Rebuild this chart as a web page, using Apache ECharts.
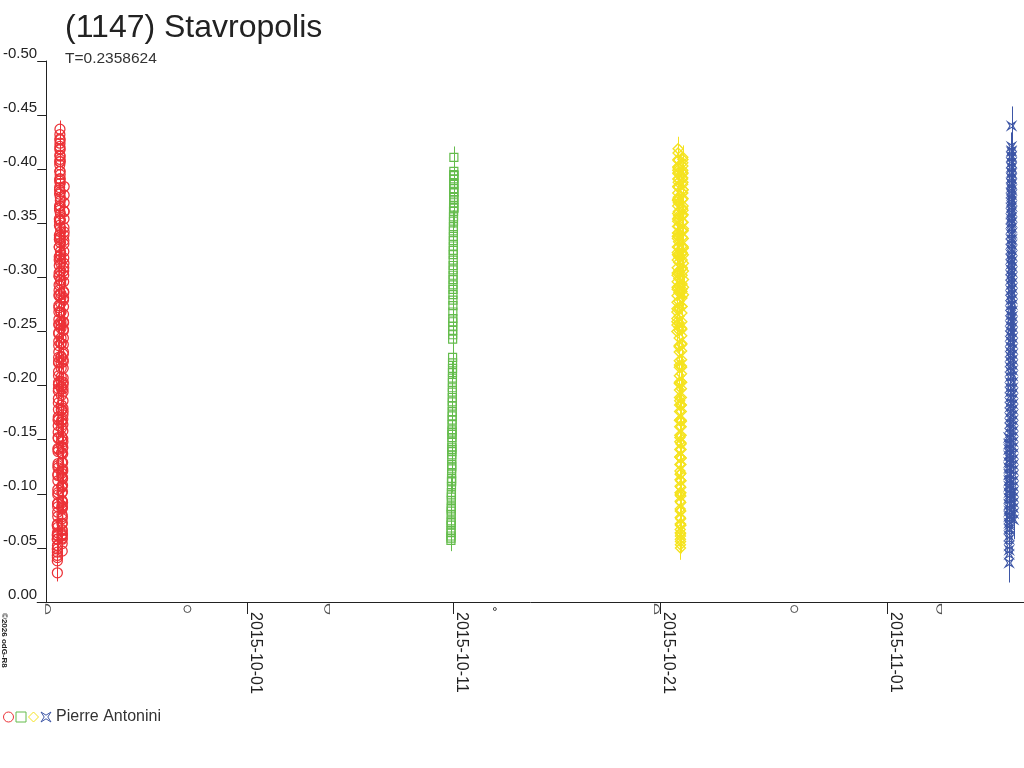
<!DOCTYPE html>
<html><head><meta charset="utf-8">
<script src="https://cdn.jsdelivr.net/npm/echarts@6/dist/echarts.min.js"></script>
<style>html,body{margin:0;padding:0;background:#fff}#c{width:1024px;height:768px}</style>
</head><body><div id="c"></div>
<script>
const titleText = '(1147) Stavropolis';
const periodText = 'T=0.2358624';
const observer = 'Pierre Antonini';
const credit = '©2026 odG-R8';
const xTickLabels = ['2015-10-01', '2015-10-11', '2015-10-21', '2015-11-01'];
const xRange = ['2015-09-20T20:15Z', '2015-11-07T15:01Z'];
const yRange = [-0.5, 0];
const yStep = 0.05;

const sessionDates = ['2015-09-21', '2015-10-10', '2015-10-21', '2015-11-06'];
const sessionErr = [0.008, 0.010, 0.011, 0.018];

// [hour of UT day (may exceed 24), delta mag]
const redPts = [[19.50,-0.071],[19.55,-0.062],[19.60,-0.049],[19.65,-0.043],[19.70,-0.027],[19.75,-0.041],[19.80,-0.052],
[19.85,-0.058],[19.90,-0.061],[19.95,-0.072],[20.00,-0.069],[20.05,-0.083],[20.10,-0.088],[20.15,-0.091],[20.20,-0.104],[20.25,-0.099],[20.30,-0.112],[20.35,-0.118],[20.40,-0.126],[20.45,-0.124],[20.50,-0.139],[20.55,-0.141],[20.60,-0.152],[20.65,-0.157],[20.70,-0.163],[20.75,-0.171],[20.80,-0.169],[20.85,-0.184],[20.90,-0.188],[20.95,-0.197],[21.00,-0.201],[21.05,-0.209],[21.10,-0.213],[21.15,-0.226],[21.20,-0.222],[21.25,-0.237],[21.30,-0.241],[21.35,-0.249],[21.40,-0.256],[21.45,-0.261],[21.50,-0.268],[21.55,-0.272],[21.60,-0.283],[21.65,-0.288],[21.70,-0.293],[21.75,-0.304],[21.80,-0.301],[21.85,-0.316],[21.90,-0.319],[21.95,-0.328],[22.00,-0.335],[22.05,-0.339],[22.10,-0.348],[22.15,-0.352],[22.20,-0.364],[22.25,-0.366],[22.30,-0.377],[22.35,-0.383],[22.40,-0.389],[22.45,-0.398],[22.50,-0.404],[22.55,-0.413],[22.60,-0.421],[22.65,-0.428],[22.70,-0.437],[22.75,-0.424],
[22.80,-0.419],[22.85,-0.409],[22.90,-0.412],[22.95,-0.398],[23.00,-0.391],[23.05,-0.387],[23.10,-0.374],[23.15,-0.371],[23.20,-0.359],[23.25,-0.353],[23.30,-0.346],[23.35,-0.337],[23.40,-0.332],[23.45,-0.321],[23.50,-0.317],[23.55,-0.306],[23.60,-0.298],[23.65,-0.294],[23.70,-0.281],[23.75,-0.276],[23.80,-0.268],[23.85,-0.259],[23.90,-0.253],[23.95,-0.244],[24.00,-0.239],[24.05,-0.227],[24.10,-0.221],[24.15,-0.216],[24.20,-0.204],[24.25,-0.199],[24.30,-0.191],[24.35,-0.182],[24.40,-0.177],[24.45,-0.166],[24.50,-0.161],[24.55,-0.153],[24.60,-0.144],[24.65,-0.138],[24.70,-0.129],[24.75,-0.122],[24.80,-0.116],[24.85,-0.107],[24.90,-0.101],[24.95,-0.094],[25.00,-0.086],[25.05,-0.081],[25.10,-0.072],[25.15,-0.067],[25.20,-0.059],[25.25,-0.062],[25.30,-0.054],[25.35,-0.058],
[25.40,-0.066],[25.45,-0.073],[25.50,-0.079],[25.55,-0.087],[25.60,-0.093],[25.65,-0.102],[25.70,-0.108],[25.75,-0.114],[25.80,-0.123],[25.85,-0.129],[25.90,-0.137],[25.95,-0.143],[26.00,-0.151],[26.05,-0.158],[26.10,-0.164],[26.15,-0.173],[26.20,-0.179],[26.25,-0.186],[26.30,-0.194],[26.35,-0.201],[26.40,-0.207],[26.45,-0.216],[26.50,-0.222],[26.55,-0.229],[26.60,-0.238],[26.65,-0.244],[26.70,-0.251],[26.75,-0.259],[26.80,-0.266],[26.85,-0.273],[26.90,-0.281],[26.95,-0.287],[27.00,-0.296],[27.05,-0.302],[27.10,-0.309],[27.15,-0.318],[27.20,-0.324],[27.25,-0.331],[27.30,-0.339],[27.35,-0.346],[27.40,-0.354],[27.45,-0.361],[27.50,-0.369],[27.55,-0.376],[27.60,-0.384],
[19.53,-0.058],[19.63,-0.038],[19.73,-0.046],[19.83,-0.064],[19.93,-0.052],[20.03,-0.091],[20.13,-0.079],[20.23,-0.117],[20.33,-0.101],[20.43,-0.142],[20.53,-0.128],[20.63,-0.168],[20.73,-0.151],[20.83,-0.195],[20.93,-0.178],[21.03,-0.221],[21.13,-0.203],[21.23,-0.248],[21.33,-0.231],[21.43,-0.274],[21.53,-0.257],[21.63,-0.301],[21.73,-0.284],[21.83,-0.328],[21.93,-0.311],[22.03,-0.354],[22.13,-0.337],[22.23,-0.381],[22.33,-0.362],[22.43,-0.407],[22.53,-0.391],[22.63,-0.432],[22.73,-0.418],[22.83,-0.427],[22.93,-0.395],[23.03,-0.407],[23.13,-0.366],[23.23,-0.379],[23.33,-0.324],[23.43,-0.342],[23.53,-0.297],[23.63,-0.313],[23.73,-0.268],[23.83,-0.285],[23.93,-0.239],[24.03,-0.256],[24.13,-0.208],[24.23,-0.226],[24.33,-0.178],[24.43,-0.197],[24.53,-0.149],[24.63,-0.168],[24.73,-0.119],[24.83,-0.138],[24.93,-0.089],[25.03,-0.106],[25.13,-0.061],[25.23,-0.077],[25.33,-0.047],[25.43,-0.088],[25.53,-0.063],[25.63,-0.115],[25.73,-0.092],[25.83,-0.142],[25.93,-0.121],[26.03,-0.169],[26.13,-0.148],[26.23,-0.197],[26.33,-0.176],[26.43,-0.224],[26.53,-0.203],[26.63,-0.252],[26.73,-0.231],[26.83,-0.279],[26.93,-0.258],[27.03,-0.306],[27.13,-0.286],[27.23,-0.334],[27.33,-0.313],[27.43,-0.361],[27.53,-0.342]];

const greenPts = [[21.05,-0.057],[21.09,-0.061],[21.13,-0.059],[21.17,-0.066],[21.21,-0.064],[21.25,-0.071],[21.29,-0.075],[21.33,-0.073],[21.37,-0.081],[21.41,-0.084],[21.45,-0.088],[21.49,-0.086],[21.53,-0.094],[21.57,-0.097],[21.61,-0.101],[21.65,-0.099],[21.69,-0.107],[21.73,-0.111],[21.77,-0.114],[21.81,-0.112],[21.85,-0.119],[21.89,-0.123],[21.93,-0.127],[21.97,-0.125],[22.01,-0.132],[22.05,-0.136],[22.09,-0.139],[22.13,-0.143],[22.17,-0.141],[22.21,-0.148],[22.25,-0.152],[22.29,-0.155],[22.33,-0.159],[22.37,-0.157],[22.41,-0.164],[22.45,-0.168],[22.49,-0.172],[22.53,-0.176],[22.57,-0.181],[22.61,-0.185],[22.65,-0.189],[22.69,-0.194],[22.73,-0.198],[22.77,-0.203],[22.81,-0.207],[22.85,-0.212],[22.89,-0.216],[22.93,-0.221],[22.97,-0.226],
[23.05,-0.243],[23.09,-0.247],[23.13,-0.251],[23.17,-0.255],[23.21,-0.259],[23.25,-0.262],[23.29,-0.268],[23.33,-0.274],[23.37,-0.279],[23.41,-0.284],[23.45,-0.289],[23.49,-0.293],[23.53,-0.298],[23.57,-0.302],[23.61,-0.307],[23.65,-0.311],[23.69,-0.316],[23.73,-0.321],[23.77,-0.325],[23.81,-0.329],[23.85,-0.334],[23.89,-0.338],[23.93,-0.343],[23.97,-0.347],[24.01,-0.352],[24.05,-0.356],[24.09,-0.361],[24.13,-0.365],[24.17,-0.369],[24.21,-0.374],[24.25,-0.378],[24.29,-0.382],[24.33,-0.386],[24.37,-0.391],[24.41,-0.395],[24.45,-0.398],[24.49,-0.411],[24.53,-0.394],[24.57,-0.387],[24.61,-0.379],[24.65,-0.372],[24.69,-0.364]];

const yellowPts = [[19.60,-0.250],[19.65,-0.259],[19.70,-0.262],[19.76,-0.271],[19.81,-0.277],[19.86,-0.283],[19.91,-0.291],[19.97,-0.296],[20.02,-0.304],[20.07,-0.309],[20.12,-0.316],[20.18,-0.323],[20.23,-0.328],[20.28,-0.336],[20.33,-0.341],[20.39,-0.347],[20.44,-0.354],[20.49,-0.359],[20.54,-0.366],[20.60,-0.372],[20.65,-0.378],[20.70,-0.384],[20.75,-0.391],[20.81,-0.396],[20.86,-0.402],[20.91,-0.409],[20.96,-0.415],
[21.02,-0.408],[21.07,-0.401],[21.12,-0.397],[21.17,-0.388],[21.23,-0.383],[21.28,-0.374],[21.33,-0.369],[21.38,-0.361],[21.44,-0.355],[21.49,-0.347],[21.54,-0.341],[21.59,-0.333],[21.65,-0.328],[21.70,-0.319],[21.75,-0.314],[21.80,-0.306],[21.86,-0.299],[21.91,-0.292],[21.96,-0.286],[22.01,-0.278],[22.07,-0.272],[22.12,-0.264],[22.17,-0.258],[22.22,-0.251],[22.28,-0.244],[22.33,-0.237],[22.38,-0.231],[22.43,-0.223],[22.49,-0.217],[22.54,-0.209],[22.59,-0.203],[22.64,-0.196],[22.70,-0.189],[22.75,-0.182],[22.80,-0.176],[22.85,-0.168],[22.91,-0.162],[22.96,-0.154],[23.01,-0.148],[23.06,-0.141],[23.12,-0.134],[23.17,-0.127],[23.22,-0.121],[23.27,-0.113],[23.33,-0.107],[23.38,-0.099],[23.43,-0.093],[23.48,-0.086],[23.54,-0.078],[23.59,-0.072],[23.64,-0.064],[23.69,-0.058],[23.75,-0.053],[23.80,-0.050],
[23.85,-0.056],[23.91,-0.063],[23.96,-0.071],[24.01,-0.077],[24.06,-0.084],[24.12,-0.092],[24.17,-0.098],[24.22,-0.106],[24.27,-0.112],[24.33,-0.119],[24.38,-0.127],[24.43,-0.133],[24.48,-0.141],[24.54,-0.147],[24.59,-0.154],[24.64,-0.162],[24.69,-0.168],[24.75,-0.176],[24.80,-0.182],[24.85,-0.189],[24.90,-0.197],[24.96,-0.203],[25.01,-0.211],[25.06,-0.217],[25.11,-0.224],[25.17,-0.232],[25.22,-0.238],[25.27,-0.246],[25.32,-0.252],[25.38,-0.259],[25.43,-0.267],[25.48,-0.273],[25.53,-0.281],[25.59,-0.287],[25.64,-0.294],[25.69,-0.302],[25.74,-0.308],[25.80,-0.316],[25.85,-0.322],[25.90,-0.329],[25.95,-0.337],[26.01,-0.343],[26.06,-0.351],[26.11,-0.357],[26.16,-0.364],[26.22,-0.372],[26.27,-0.378],[26.32,-0.386],[26.37,-0.392],[26.43,-0.399],[26.48,-0.406],
[26.53,-0.411],[26.59,-0.403],[26.64,-0.396],[26.69,-0.388],[26.74,-0.381],[26.80,-0.373],[26.85,-0.366],[26.90,-0.358],[26.95,-0.351],[27.01,-0.343],[27.06,-0.336],[27.11,-0.328],[27.16,-0.321],[27.22,-0.313],[27.27,-0.306],[27.32,-0.298],[27.37,-0.291],
[19.63,-0.268],[19.76,-0.256],[19.89,-0.302],[20.02,-0.289],[20.15,-0.338],[20.28,-0.321],[20.41,-0.371],[20.54,-0.352],[20.67,-0.399],[20.80,-0.384],[20.93,-0.402],[21.06,-0.419],[21.19,-0.373],[21.32,-0.391],[21.45,-0.338],[21.58,-0.357],[21.71,-0.304],[21.84,-0.321],[21.97,-0.271],[22.10,-0.288],[22.23,-0.236],[22.36,-0.254],[22.49,-0.202],[22.62,-0.219],[22.75,-0.168],[22.88,-0.186],[23.01,-0.134],[23.14,-0.152],[23.27,-0.101],[23.40,-0.118],[23.53,-0.067],[23.66,-0.084],[23.79,-0.061],[23.92,-0.072],[24.05,-0.071],[24.18,-0.112],[24.31,-0.101],[24.44,-0.146],[24.57,-0.133],[24.70,-0.182],[24.83,-0.167],[24.96,-0.218],[25.09,-0.203],[25.22,-0.253],[25.35,-0.239],[25.48,-0.289],[25.61,-0.273],[25.74,-0.323],[25.87,-0.309],[26.00,-0.358],[26.13,-0.343],[26.26,-0.391],[26.39,-0.378],[26.52,-0.397],[26.65,-0.409],[26.78,-0.362],[26.91,-0.381],[27.04,-0.327],[27.17,-0.345],[27.30,-0.284]];

const bluePts = [[21.10,-0.152],[21.14,-0.146],[21.17,-0.141],[21.21,-0.135],[21.24,-0.129],[21.28,-0.124],[21.31,-0.118],[21.35,-0.112],[21.38,-0.107],[21.42,-0.101],[21.45,-0.096],[21.49,-0.090],[21.52,-0.084],[21.56,-0.079],[21.59,-0.073],[21.63,-0.068],[21.66,-0.061],[21.70,-0.052],[21.73,-0.044],[21.77,-0.036],
[21.80,-0.048],[21.84,-0.058],[21.87,-0.067],[21.91,-0.071],[21.94,-0.077],[21.98,-0.080],[22.01,-0.086],[22.05,-0.090],[22.08,-0.095],[22.12,-0.099],[22.15,-0.104],[22.19,-0.109],[22.22,-0.113],[22.26,-0.118],[22.29,-0.123],[22.33,-0.128],[22.36,-0.132],[22.40,-0.137],[22.43,-0.142],[22.47,-0.146],[22.50,-0.151],[22.54,-0.156],[22.57,-0.161],[22.61,-0.165],[22.64,-0.170],[22.68,-0.175],[22.71,-0.180],[22.75,-0.184],[22.78,-0.189],[22.82,-0.194],[22.85,-0.198],[22.89,-0.203],[22.92,-0.208],[22.96,-0.213],[22.99,-0.217],[23.03,-0.222],[23.06,-0.227],[23.10,-0.231],[23.13,-0.236],[23.17,-0.241],[23.20,-0.246],[23.24,-0.250],[23.27,-0.255],[23.31,-0.260],[23.34,-0.265],[23.38,-0.269],[23.41,-0.274],[23.45,-0.279],[23.48,-0.283],[23.52,-0.288],[23.55,-0.293],[23.59,-0.298],[23.62,-0.302],[23.66,-0.307],[23.69,-0.312],[23.73,-0.317],[23.76,-0.321],[23.80,-0.326],[23.83,-0.331],[23.87,-0.335],[23.90,-0.340],[23.94,-0.345],[23.97,-0.350],[24.01,-0.354],[24.04,-0.359],[24.08,-0.364],[24.11,-0.369],[24.15,-0.373],[24.18,-0.378],[24.22,-0.383],[24.25,-0.387],[24.29,-0.392],[24.32,-0.397],[24.36,-0.402],[24.39,-0.406],[24.43,-0.411],[24.46,-0.416],[24.50,-0.421],[24.53,-0.440],
[24.57,-0.417],[24.60,-0.412],[24.64,-0.406],[24.67,-0.401],[24.71,-0.396],[24.74,-0.391],[24.78,-0.386],[24.81,-0.381],[24.85,-0.376],[24.88,-0.371],[24.92,-0.366],[24.95,-0.361],[24.99,-0.356],[25.02,-0.351],[25.06,-0.346],[25.09,-0.341],[25.13,-0.335],[25.16,-0.330],[25.20,-0.325],[25.23,-0.320],[25.27,-0.315],[25.30,-0.310],[25.34,-0.305],[25.37,-0.300],[25.41,-0.295],[25.44,-0.290],[25.48,-0.285],[25.51,-0.280],[25.55,-0.275],[25.58,-0.269],[25.62,-0.264],[25.65,-0.259],[25.69,-0.254],[25.72,-0.249],[25.76,-0.244],[25.79,-0.239],[25.83,-0.234],[25.86,-0.229],[25.90,-0.224],[25.93,-0.219],[25.97,-0.214],[26.00,-0.209],[26.04,-0.203],[26.07,-0.198],[26.11,-0.193],[26.14,-0.188],[26.18,-0.183],[26.21,-0.178],[26.25,-0.173],[26.28,-0.168],[26.32,-0.163],[26.35,-0.158],[26.39,-0.153],[26.42,-0.148],[26.46,-0.143],[26.49,-0.137],[26.53,-0.132],[26.56,-0.127],[26.60,-0.122],[26.63,-0.117],[26.67,-0.112],[26.70,-0.107],[26.74,-0.102],[26.77,-0.097],[26.81,-0.092],[26.84,-0.087],[26.88,-0.082],[26.91,-0.076]];

const moonTimes = ['2015-09-21T08:59Z','2015-09-28T02:50Z','2015-10-04T21:06Z','2015-10-13T00:06Z','2015-10-20T20:31Z','2015-10-27T12:05Z','2015-11-03T12:24Z'];
const moonPhases = ['FQ','F','LQ','N','FQ','F','LQ'];

const colors = ['#ec3237', '#64bc4c', '#f5e320', '#3d56a6'];
const symbols = ['circle', 'rect', 'diamond', 'path://M0,0L5,3.2L10,0L6.8,5L10,10L5,6.8L0,10L3.2,5Z'];
const symbolSizes = [10, 8, 10, 8];
const strokeWidths = [1.25, 1.2, 1.4, 1.1];
const sessionPts = [redPts, greenPts, yellowPts, bluePts];

const HOUR = 3600e3;
const toData = (pts, i) => {
  const base = Date.parse(sessionDates[i] + 'T00:00:00Z');
  return pts.map(p => [base + p[0] * HOUR, p[1], sessionErr[i]]);
};
const xTickValues = xTickLabels.map(s => Date.parse(s + 'T00:00:00Z'));
const seriesNames = sessionDates.slice();
const hollow = (i, w) => ({ color: 'rgba(0,0,0,0)', borderColor: colors[i], borderWidth: w, opacity: 1 });

const series = [];
sessionPts.forEach((pts, i) => {
  const data = toData(pts, i);
  series.push({
    type: 'custom', name: seriesNames[i] + ' err', silent: true, z: 1,
    data: data, encode: { x: 0, y: 1 },
    renderItem: (params, api) => {
      const x = api.value(0), y = api.value(1), e = api.value(2);
      const a = api.coord([x, y - e]), b = api.coord([x, y + e]);
      const px = Math.round(a[0]) + 0.5;
      return { type: 'line', shape: { x1: px, y1: a[1], x2: px, y2: b[1] },
        style: { stroke: colors[i], lineWidth: 1 } };
    }
  });
  series.push({
    type: 'scatter', name: seriesNames[i], z: 2,
    data: data.map(d => [d[0], d[1]]),
    symbol: symbols[i], symbolSize: symbolSizes[i],
    itemStyle: hollow(i, strokeWidths[i])
  });
});

const moonSym = {
  FQ: ['path://M0,0L0,10C7,10 7,0 0,0Z', [5, 9]],
  LQ: ['path://M7,0L7,10C0,10 0,0 7,0Z', [5, 9]],
  F: ['circle', 7],
  N: ['circle', 3]
};
series.push({
  type: 'scatter', name: 'moon', silent: true, clip: false, z: 3,
  symbolOffset: [0, 7],
  itemStyle: { color: 'rgba(0,0,0,0)', borderColor: '#222', borderWidth: 1 },
  data: moonTimes.map((t, i) => ({
    value: [Date.parse(t), 0],
    symbol: moonSym[moonPhases[i]][0],
    symbolSize: moonSym[moonPhases[i]][1]
  }))
});

const chart = echarts.init(document.getElementById('c'), null, { renderer: 'canvas' });
const FONT = 'Liberation Sans, Arial, sans-serif';
chart.setOption({
  animation: false,
  backgroundColor: '#fff',
  title: [
    { text: titleText, left: 65, top: 12, padding: 0,
      textStyle: { fontSize: 32, fontWeight: 'normal', color: '#222', fontFamily: FONT } },
    { text: periodText, left: 65, top: 51, padding: 0,
      textStyle: { fontSize: 15.5, fontWeight: 'normal', color: '#333', fontFamily: FONT } }
  ],
  legend: {
    left: 3, top: 709, padding: 0, itemGap: 1.5, itemWidth: 10, itemHeight: 10,
    selectedMode: false,
    data: seriesNames.map((n, i) => ({ name: n, icon: symbols[i], itemStyle: hollow(i, 1) })),
    formatter: name => (name === seriesNames[seriesNames.length - 1] ? observer : ''),
    textStyle: { fontSize: 16, color: '#333', fontFamily: FONT }
  },
  grid: { left: 36, right: 0, top: 61, bottom: 166, containLabel: false },
  xAxis: {
    type: 'value', min: Date.parse(xRange[0]), max: Date.parse(xRange[1]),
    splitLine: { show: false },
    axisLine: { show: true, lineStyle: { color: '#222', width: 1 } },
    axisTick: { show: true, customValues: xTickValues, length: 12, lineStyle: { color: '#222' } },
    axisLabel: {
      customValues: xTickValues, rotate: -90, margin: 10,
      align: 'left', verticalAlign: 'bottom',
      fontSize: 16, color: '#222', fontFamily: FONT,
      formatter: v => {
        const k = xTickValues.findIndex(t => Math.abs(t - v) < 1000);
        return k >= 0 ? xTickLabels[k] : '';
      }
    }
  },
  yAxis: {
    type: 'value', inverse: true, min: yRange[0], max: yRange[1], interval: yStep,
    offset: -9,
    splitLine: { show: false },
    axisLine: { show: true, onZero: false, lineStyle: { color: '#222', width: 1 } },
    axisTick: { show: true, length: 9, lineStyle: { color: '#222' } },
    axisLabel: {
      margin: 9, verticalAlign: 'bottom', fontSize: 15, color: '#222', fontFamily: FONT,
      showMinLabel: true, showMaxLabel: true,
      formatter: v => (Math.abs(v) < 1e-9 ? '0.00' : v.toFixed(2))
    }
  },
  graphic: [{
    type: 'text', x: 0, y: 613, rotation: -Math.PI / 2,
    style: { text: credit, font: 'bold 8px ' + FONT, fill: '#222', verticalAlign: 'bottom', align: 'left' }
  }],
  series: series
});
</script></body></html>
